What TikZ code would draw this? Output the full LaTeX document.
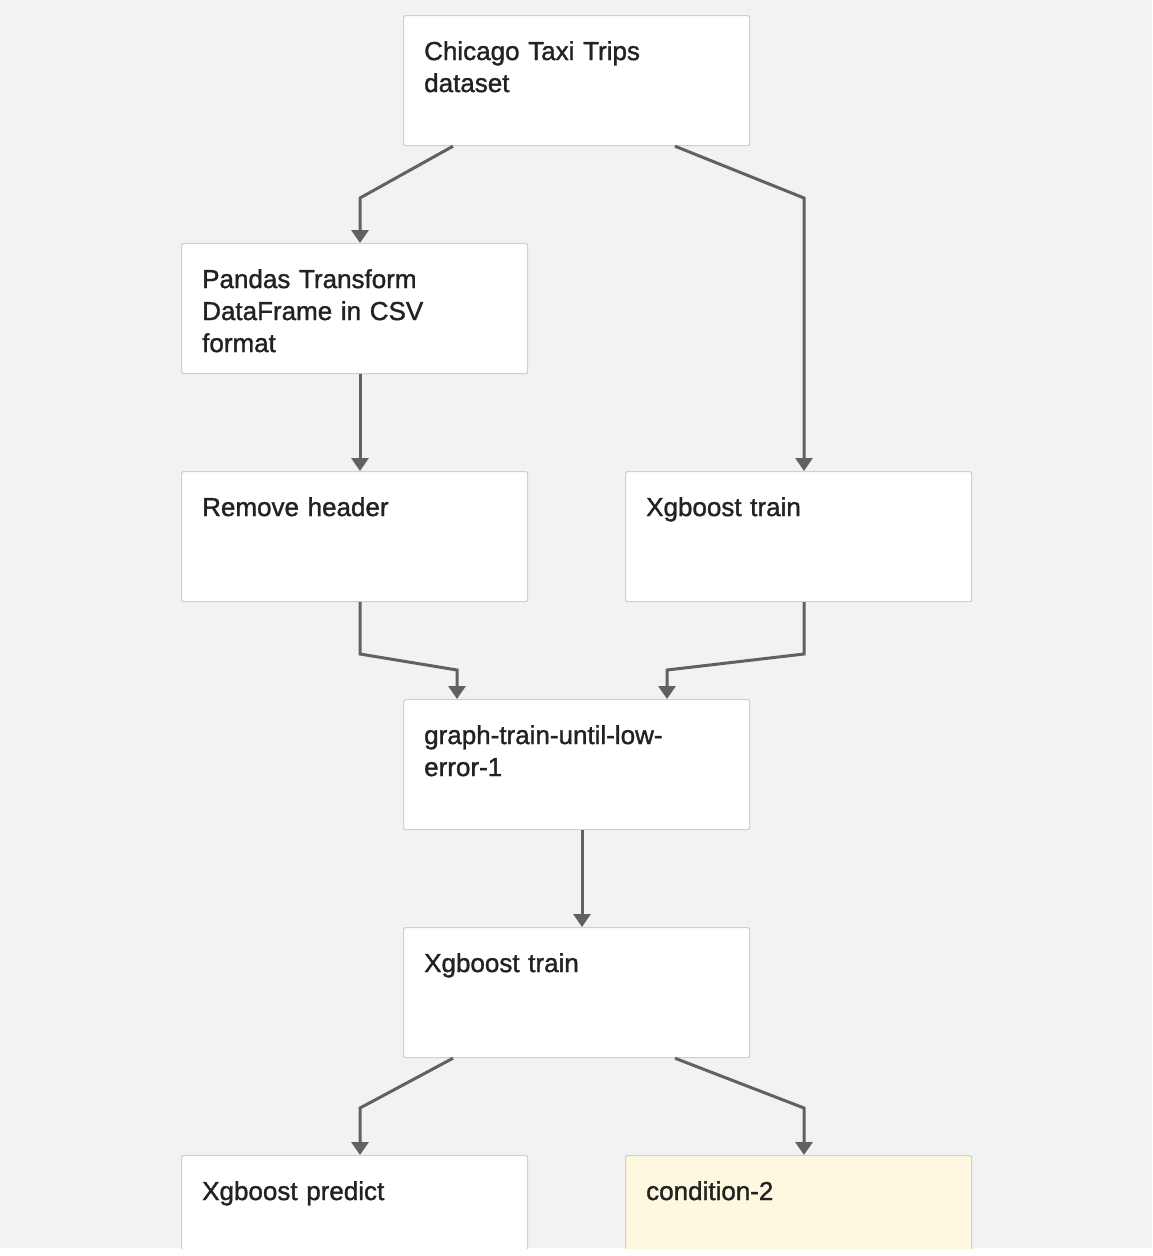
\documentclass[tikz,border=0pt]{standalone}
\usepackage{fontspec}
\setmainfont[BoldFont={Liberation Sans},BoldFeatures={FakeBold=1.3}]{Liberation Sans}
\usetikzlibrary{arrows.meta}
\definecolor{bggray}{RGB}{242,242,242}
\definecolor{boxline}{RGB}{208,208,208}
\definecolor{edgegray}{RGB}{97,97,97}
\definecolor{condyellow}{RGB}{253,248,223}
\definecolor{txt}{RGB}{34,34,34}

\begin{document}
\begin{tikzpicture}[x=1pt,y=-1pt,
  stage/.style={draw=boxline,line width=1.2pt,fill=white,rounded corners=2pt,
    minimum width=346pt,minimum height=130pt,anchor=north west,inner sep=0pt},
  stagetext/.style={anchor=north west,inner sep=0pt,text width=320pt,align=left,
    font=\fontsize{26}{32}\selectfont\bfseries,text=txt},
  flow/.style={draw=edgegray,line width=3pt,-{Triangle[length=13pt,width=17pt]}}]
\useasboundingbox (0,0) rectangle (1152,1256);
\fill[bggray] (0,0) rectangle (1152,1248);
\begin{scope}
\clip (0,0) rectangle (1152,1248);
%nodes
\node[stage] (data) at (403,15) {};
\node[stage] (pandas) at (181,243) {};
\node[stage] (header) at (181,471) {};
\node[stage] (train) at (625,471) {};
\node[stage] (graph) at (403,699) {};
\node[stage] (train2) at (403,927) {};
\node[stage,minimum height=160pt] (predict) at (181,1155) {};
\node[stage,fill=condyellow,minimum height=160pt] (cond) at (625,1155) {};
\end{scope}
% Text
\node[stagetext] at ([shift={(21,26)}]data.north west) {Chicago Taxi Trips\\dataset};
\node[stagetext] at ([shift={(21,26)}]pandas.north west) {Pandas Transform\\DataFrame in CSV\\format};
\node[stagetext] at ([shift={(21,26)}]header.north west) {Remove header};
\node[stagetext] at ([shift={(21,26)}]train.north west) {Xgboost train};
\node[stagetext] at ([shift={(21,26)}]graph.north west) {graph-train-until-low-\\error-1};
\node[stagetext] at ([shift={(21,26)}]train2.north west) {Xgboost train};
\node[stagetext] at ([shift={(21,26)}]predict.north west) {Xgboost predict};
\node[stagetext] at ([shift={(21,26)}]cond.north west) {condition-2};
%connectors
\draw[flow] ([xshift=50]data.south west) -- (360,198) -- ([xshift=179]pandas.north west);
\draw[flow] ([xshift=272]data.south west) -- (804,198) -- ([xshift=179]train.north west);
\draw[flow] ([xshift=179]pandas.south west) -- ([xshift=179]header.north west);
\draw[flow] ([xshift=179]header.south west) -- (360,654) -- (457,670) -- ([xshift=54]graph.north west);
\draw[flow] ([xshift=179]train.south west) -- (804,654) -- (667,670) -- ([xshift=264]graph.north west);
\draw[flow] ([xshift=179]graph.south west) -- ([xshift=179]train2.north west);
\draw[flow] ([xshift=50]train2.south west) -- (360,1108) -- ([xshift=179]predict.north west);
\draw[flow] ([xshift=272]train2.south west) -- (804,1108) -- ([xshift=179]cond.north west);
\end{tikzpicture}
\end{document}
